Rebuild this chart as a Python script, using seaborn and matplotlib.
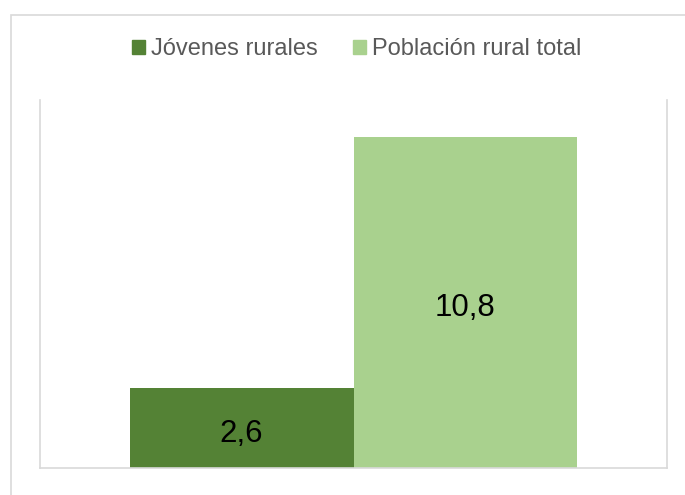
import matplotlib
matplotlib.use('Agg')
import matplotlib.pyplot as plt
import seaborn as sns
import pandas as pd
from matplotlib.patches import Rectangle

# datos
series = ['Jóvenes rurales', 'Población rural total']
valores = [2.6, 10.8]
colores = ['#548235', '#A9D18E']

df = pd.DataFrame({'grupo': [''] * len(series), 'serie': series, 'valor': valores})

sns.set_style('white')
plt.rcParams['font.family'] = ['Liberation Sans', 'DejaVu Sans']

fig = plt.figure(figsize=(6.85, 4.95), dpi=100)
ax = fig.add_axes([40/685, 1 - 468/495, 627/685, 368/495])

# marco exterior del grafico
fig.patches.append(Rectangle((11/685, -0.1), 1.2, 1 - 15/495 + 0.1, transform=fig.transFigure,
                             fill=False, edgecolor='#D9D9D9', linewidth=1.2, zorder=0))

sns.barplot(data=df, x='grupo', y='valor', hue='serie', palette=colores,
            width=0.714, ax=ax, saturation=1, legend=False, linewidth=0)

ax.set_ylim(0, 12)
ax.set_xlim(-0.5, 0.5)
ax.set_xlabel('')
ax.set_ylabel('')
ax.set_xticks([])
ax.set_yticks([])
for s in ['left', 'right', 'bottom']:
    ax.spines[s].set_color('#D9D9D9')
    ax.spines[s].set_linewidth(1.2)
ax.spines['top'].set_visible(False)

# etiquetas de datos, algo mas abajo del centro como en excel
for cont in ax.containers:
    txts = ax.bar_label(cont, labels=[f'{v:.1f}'.replace('.', ',') for v in cont.datavalues],
                        label_type='center', fontsize=22.5, color='black')
    for t in txts:
        t.xyann = (0, -4)

handles = [Rectangle((0, 0), 1, 1, color=c) for c in colores]
ax.legend(handles, series, loc='center', bbox_to_anchor=(357/685, (495 - 49) / 495), bbox_transform=fig.transFigure,
          ncol=2, frameon=False, fontsize=17, labelcolor='#595959',
          handlelength=0.55, handleheight=0.55, handletextpad=0.25, columnspacing=1.5)

plt.savefig('out.png', dpi=100)
